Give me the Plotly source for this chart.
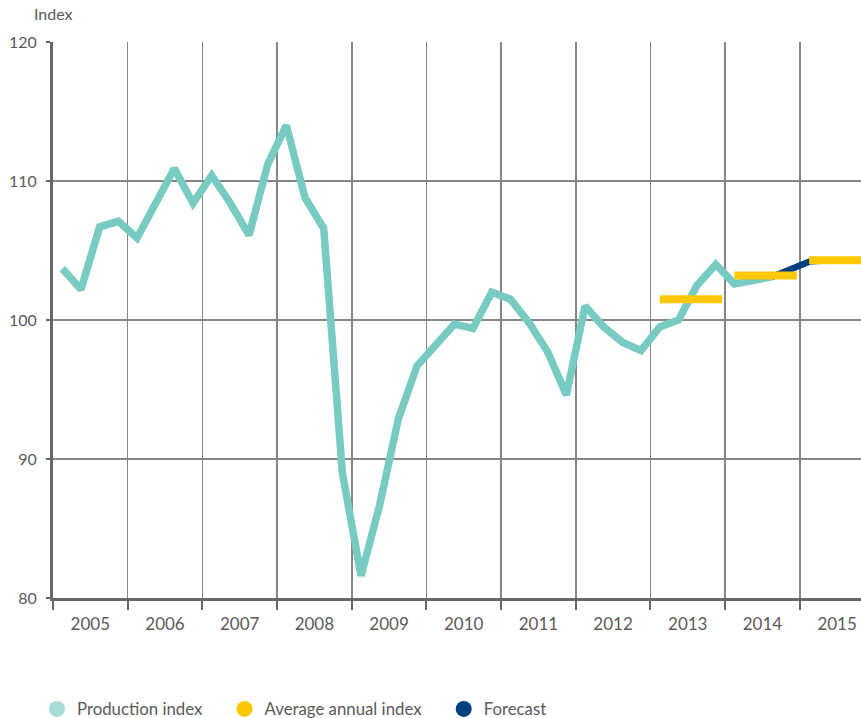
import plotly.graph_objects as go

# ---- data ----
years = ["2005", "2006", "2007", "2008", "2009", "2010",
         "2011", "2012", "2013", "2014", "2015"]

# quarterly production index, 2005 Q1 .. 2014 Q3
production = [
    103.7, 102.2, 106.7, 107.1,   # 2005
    105.9, 108.4, 110.9, 108.4,   # 2006
    110.4, 108.4, 106.1, 111.2,   # 2007
    114.0, 108.8, 106.6, 89.0,    # 2008
    81.6, 86.7, 92.9, 96.7,       # 2009
    98.2, 99.7, 99.4, 102.0,      # 2010
    101.5, 99.8, 97.7, 94.6,      # 2011
    101.0, 99.5, 98.4, 97.8,      # 2012
    99.5, 100.0, 102.5, 104.0,    # 2013
    102.6, 102.85, 103.1,         # 2014
]
production_start = "2005"

# forecast, 2014 Q3 .. 2015 Q4
forecast = [103.1, 103.7, 104.2, 104.3, 104.3, 104.3]
forecast_start_year = "2014"
forecast_start_quarter = 3

# average annual index
avg_years = ["2013", "2014", "2015"]
avg_values = [101.5, 103.2, 104.3]

y_ticks = [80, 90, 100, 110, 120]

# ---- helpers ----
def qpos(year_label, quarter):
    return years.index(year_label) + (quarter - 0.5) / 4.0

px_prod = [years.index(production_start) + (i + 0.5) / 4.0 for i in range(len(production))]
f0 = qpos(forecast_start_year, forecast_start_quarter)
px_fc = [f0 + i / 4.0 for i in range(len(forecast))]

avg_x, avg_y = [], []
for yl, v in zip(avg_years, avg_values):
    i = years.index(yl)
    avg_x += [i + 0.125, i + 0.96, None]
    avg_y += [v, v, None]

TEAL = "#77cbc2"
TEAL_LEG = "#a6dcd5"
GOLD = "#ffc800"
NAVY = "#003f7f"
GRID = "#858585"
AXIS = "#666666"
TXT = "#5a5a5a"
FONT = "Lato"

W, H = 861, 718
ML, MR, MT, MB = 53, 0, 42, 120
plot_h = H - MT - MB

fig = go.Figure()

fig.add_trace(go.Scatter(x=px_prod, y=production, mode="lines",
                         line=dict(color=TEAL, width=7.5), showlegend=False,
                         hoverinfo="skip"))
fig.add_trace(go.Scatter(x=px_fc, y=forecast, mode="lines",
                         line=dict(color=NAVY, width=6.5), showlegend=False,
                         hoverinfo="skip"))
fig.add_trace(go.Scatter(x=avg_x, y=avg_y, mode="lines",
                         line=dict(color=GOLD, width=8), showlegend=False,
                         hoverinfo="skip"))

# legend entries
nb = "\u00a0"
for name, col in [("Production index" + nb * 4, TEAL_LEG),
                  ("Average annual index" + nb * 4, GOLD),
                  ("Forecast", NAVY)]:
    fig.add_trace(go.Scatter(x=[None], y=[None], mode="markers", name=name,
                             marker=dict(color=col, size=16, symbol="circle")))

n_years_visible = 10.82

fig.update_layout(
    width=W, height=H,
    margin=dict(l=ML, r=MR, t=MT, b=MB, autoexpand=False),
    paper_bgcolor="white", plot_bgcolor="white",
    font=dict(family=FONT, color=TXT, size=16),
    showlegend=True,
    legend=dict(orientation="h", xref="container", yref="container",
                x=37 / W, xanchor="left",
                y=1 - 709 / H, yanchor="middle",
                font=dict(family=FONT, size=16.8, color=TXT),
                itemclick=False, itemdoubleclick=False,
                bgcolor="rgba(0,0,0,0)"),
    xaxis=dict(
        range=[0, n_years_visible],
        tickmode="array",
        tickvals=[i + 0.5 for i in range(len(years))],
        ticktext=years,
        ticks="", showgrid=False, zeroline=False,
        showline=True, linecolor=AXIS, linewidth=3,
        ticklabelstandoff=9,
        automargin=False,
        tickfont=dict(family=FONT, size=17, color=TXT),
        minor=dict(tick0=0, dtick=1, showgrid=True, gridcolor=GRID,
                   gridwidth=1.6, ticks="outside", ticklen=9,
                   tickcolor=AXIS, tickwidth=2),
        fixedrange=True,
    ),
    yaxis=dict(
        range=[80, 120],
        tickmode="array", tickvals=y_ticks,
        ticktext=[str(v) for v in y_ticks],
        showgrid=True, gridcolor=GRID, gridwidth=1.6,
        zeroline=False,
        showline=True, linecolor=AXIS, linewidth=3,
        ticks="outside", ticklen=4, tickcolor=AXIS, tickwidth=2,
        ticklabelstandoff=6,
        automargin=False,
        tickfont=dict(family=FONT, size=16, color=TXT),
        fixedrange=True,
    ),
    annotations=[dict(text="Index", xref="paper", yref="paper",
                      x=(32 - ML) / (W - ML - MR), y=1 + (MT - 13) / plot_h,
                      xanchor="left", yanchor="middle",
                      showarrow=False,
                      font=dict(family=FONT, size=16, color=TXT))],
)

fig.write_html("out.html",
               config={"displayModeBar": False, "staticPlot": True},
               post_script="document.body.style.margin='0px';"
                           "document.body.style.overflow='hidden';")
